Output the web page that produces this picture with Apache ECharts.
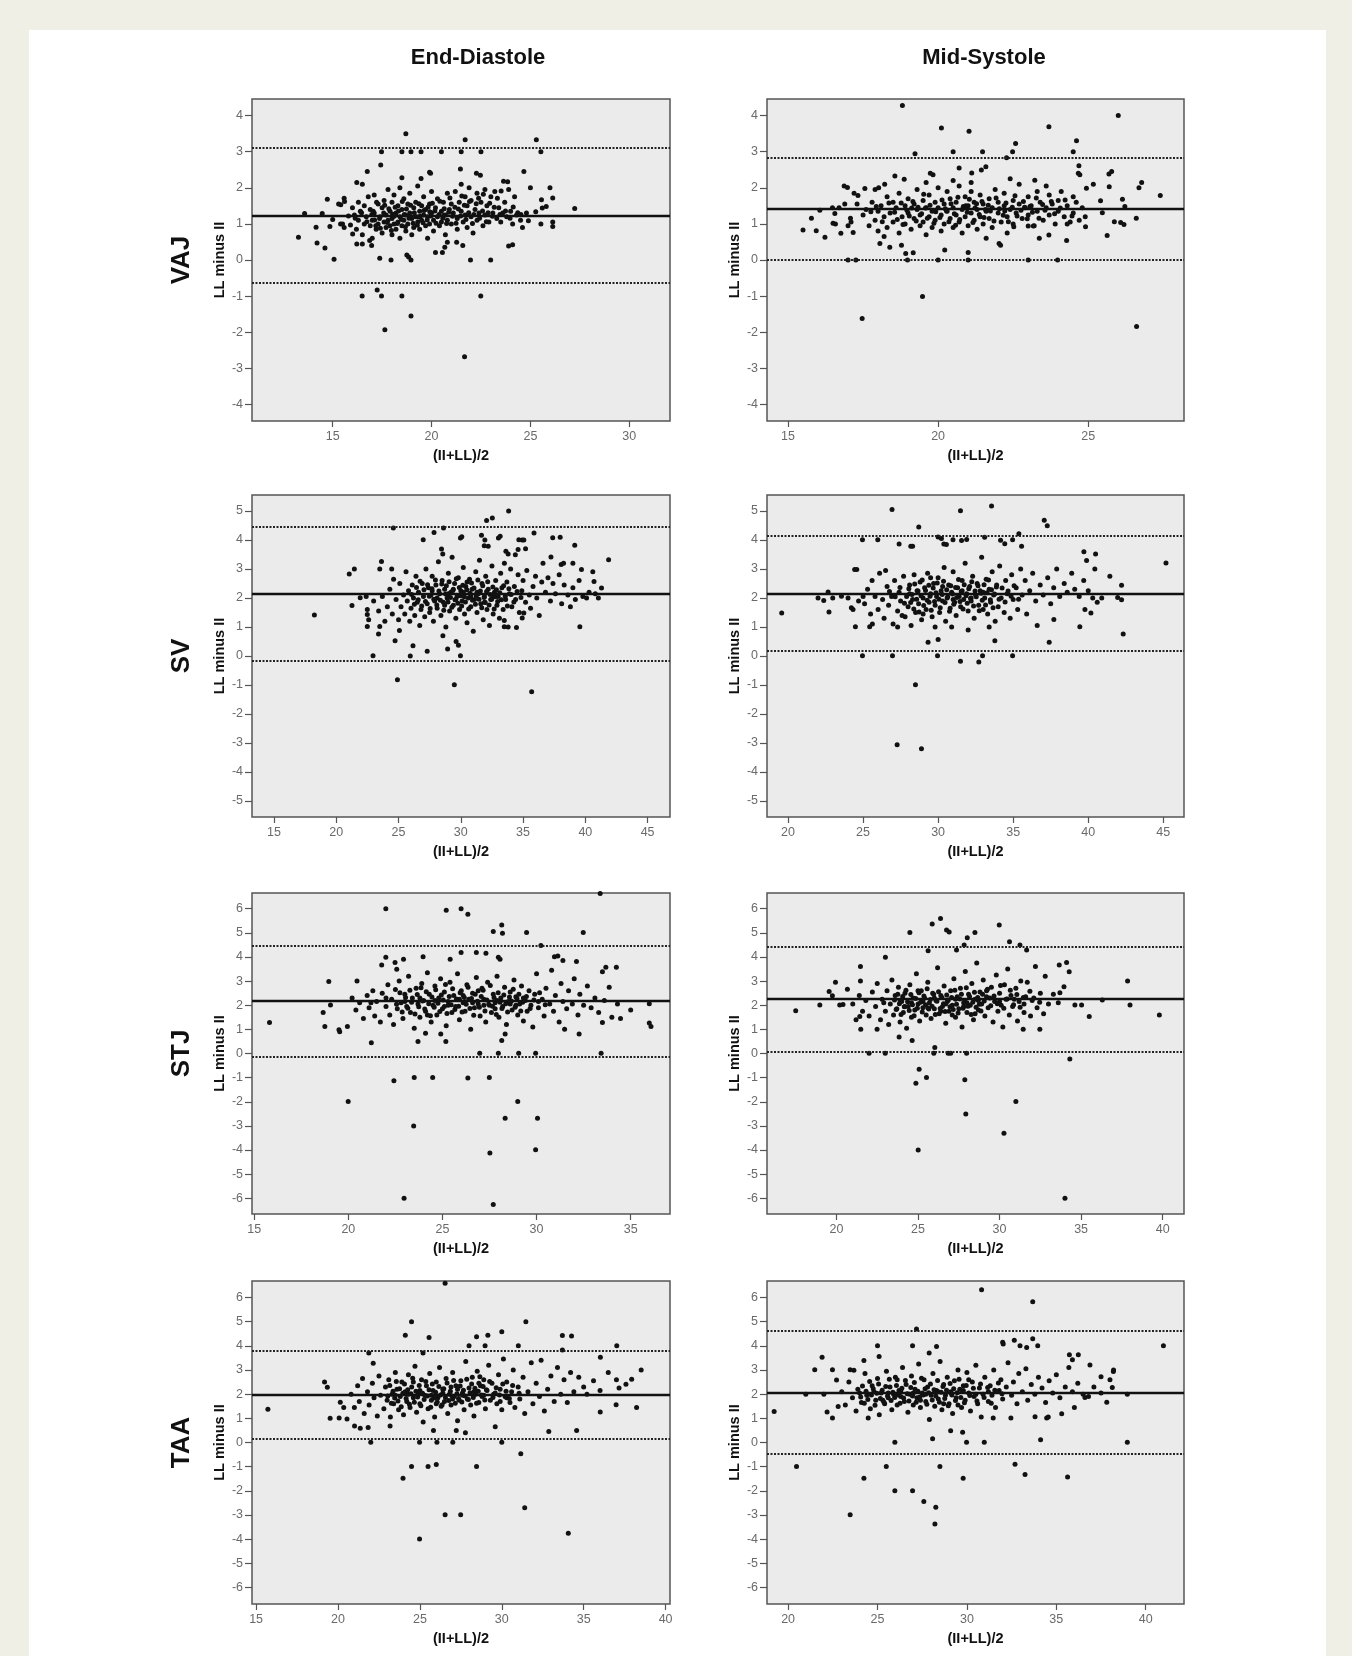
<!DOCTYPE html>
<html lang="en">
<head>
    <meta charset="UTF-8">
    <title>Bland-Altman: LL minus II</title>
    <script src="https://cdn.jsdelivr.net/npm/echarts/dist/echarts.min.js"></script>
    <style>
        html, body { margin: 0; padding: 0; background: #efefe6; overflow: hidden; }
        #sheet { position: absolute; left: 29px; top: 30px; width: 1297px; height: 1700px; background: #ffffff; }
        #main { position: absolute; left: 0; top: 0; width: 1352px; height: 1656px; }
    </style>
</head>
<body>
<div id="sheet"></div>
<div id="main"></div>
<script>
// column / row headings
var cols = ['End-Diastole', 'Mid-Systole'];
var rows = ['VAJ', 'SV', 'STJ', 'TAA'];

// points: [(II+LL)/2, LL minus II]
var vajED = [
    [18.7,3.5],[21.7,3.33],[25.3,3.33],[17.47,3.0],[18.5,3.0],[18.96,3.0],[19.47,3.0],[20.5,3.0],[21.5,3.0],[22.5,3.0],[25.53,3.0],
    [17.43,2.63],[16.75,2.45],[24.67,2.45],[21.46,2.52],[22.27,2.4],[22.47,2.35],[19.9,2.43],[19.95,2.4],[19.47,2.26],[23.64,2.18],
    [23.85,2.17],[16.22,2.15],[16.5,2.1],[18.5,2.28],[25.0,2.0],[25.99,2.0],[26.13,1.72],[25.56,1.67],[27.24,1.43],[25.6,1.44],
    [25.8,1.48],[25.27,1.34],[25.53,1.0],[26.13,1.05],[26.13,0.93],[24.9,1.09],[13.27,0.63],[13.58,1.29],[14.16,0.91],[14.21,0.47],
    [14.47,1.29],[14.61,0.33],[14.73,1.68],[14.86,0.93],[15.07,0.02],[15.0,1.12],[15.41,1.53],[15.58,1.71],[15.5,1.0],[15.58,0.9],
    [16.01,0.72],[16.22,0.44],[16.5,0.44],[16.87,0.54],[16.97,0.4],[17.38,0.05],[17.95,0.0],[18.75,0.14],[18.84,0.08],[18.96,0.0],
    [20.2,0.21],[20.55,0.21],[20.67,0.35],[20.8,0.49],[21.27,0.49],[21.58,0.4],[21.97,0.0],[22.99,0.0],[23.9,0.39],[24.1,0.42],
    [16.49,-1.0],[17.25,-0.83],[17.47,-1.0],[18.5,-1.0],[22.49,-1.0],[18.96,-1.55],[17.64,-1.93],[21.67,-2.68],
    [15.3,1.55],[15.4,1.0],[15.6,1.62],[15.8,1.22],[15.9,0.97],[16.0,1.45],[16.1,1.25],[16.2,0.85],[16.3,1.6],[16.3,1.1],
    [16.4,1.35],[16.5,0.7],[16.6,1.5],[16.6,1.0],[16.7,1.2],[16.8,1.75],[16.9,0.95],[16.9,1.4],[17.0,1.1],[17.0,0.6],
    [17.1,1.8],[17.1,1.3],[17.2,0.85],[17.3,1.55],[17.3,1.0],[17.4,1.2],[17.5,1.45],[17.5,0.75],[17.6,1.05],[17.6,1.65],
    [17.7,1.25],[17.7,0.9],[17.8,1.95],[17.8,1.1],[17.9,1.35],[17.9,0.95],[18.0,1.6],[18.0,1.15],[18.0,0.7],[18.1,1.0],
    [18.1,1.8],[18.2,1.3],[18.2,0.85],[18.3,1.5],[18.3,1.05],[18.4,2.0],[18.4,1.2],[18.4,0.6],[18.5,1.4],[18.5,0.95],
    [18.6,1.7],[18.6,1.1],[18.7,1.25],[18.7,0.8],[18.8,1.55],[18.8,1.0],[18.9,1.85],[18.9,1.3],[19.0,1.15],[19.0,0.7],
    [19.1,1.45],[19.1,0.9],[19.2,1.6],[19.2,1.2],[19.3,1.05],[19.3,2.05],[19.4,1.35],[19.4,0.85],[19.5,1.5],[19.5,1.1],
    [19.6,1.25],[19.6,1.75],[19.7,0.95],[19.7,1.4],[19.8,1.2],[19.8,0.6],[19.9,1.55],[19.9,1.0],[20.0,1.3],[20.0,1.9],
    [20.1,1.1],[20.1,0.8],[20.2,1.45],[20.3,1.2],[20.3,1.7],[20.4,0.95],[20.5,1.35],[20.5,1.05],[20.6,1.6],[20.7,1.25],
    [20.7,0.7],[20.8,1.85],[20.8,1.1],[20.9,1.4],[21.0,1.0],[21.0,1.55],[21.1,1.3],[21.2,1.9],[21.3,1.15],[21.3,0.85],
    [21.4,1.6],[21.5,1.35],[21.5,2.1],[21.6,1.05],[21.7,1.75],[21.7,1.25],[21.8,0.9],[21.8,1.5],[21.9,2.0],[22.0,1.2],
    [22.0,1.65],[22.1,0.75],[22.2,1.4],[22.3,1.85],[22.3,1.1],[22.4,1.3],[22.5,1.6],[22.6,0.95],[22.7,1.95],[22.7,1.25],
    [22.8,1.5],[22.9,1.05],[23.0,1.75],[23.1,1.3],[23.2,1.9],[23.3,1.15],[23.4,1.45],[23.5,1.05],[23.6,1.3],[23.7,1.6],
    [23.8,1.2],[23.9,1.95],[24.0,1.35],[24.1,1.0],[24.2,1.75],[24.3,1.25],[24.5,1.1],[24.6,0.9],[24.8,1.3],
    [17.05,1.35],[17.18,0.95],[17.22,1.6],[17.37,1.15],[17.41,0.88],[17.58,1.3],[17.63,1.52],[17.76,1.04],[17.84,1.42],[17.97,0.82],
    [18.03,1.27],[18.16,1.46],[18.27,1.01],[18.33,1.36],[18.48,1.12],[18.52,1.62],[18.68,0.92],[18.73,1.41],[18.86,1.16],[18.94,1.52],
    [19.07,1.02],[19.13,1.31],[19.28,0.96],[19.36,1.56],[19.43,1.21],[19.57,1.03],[19.62,1.37],[19.78,1.11],[19.83,1.47],[19.96,1.22],
    [20.04,1.57],[20.17,1.36],[20.23,1.02],[20.38,1.26],[20.42,1.63],[20.57,1.16],[20.64,1.42],[20.76,1.01],[20.87,1.32],[20.93,1.72],
    [21.06,1.21],[21.18,1.46],[21.24,1.02],[21.36,1.41],[21.47,1.22],[21.53,1.77],[21.66,1.52],[21.74,1.12],[21.88,1.31],[21.92,1.62],
    [22.07,1.01],[22.14,1.26],[22.26,1.56],[22.38,1.71],[22.43,1.16],[22.58,1.36],[22.62,1.82],[22.77,1.06],[22.86,1.31],[22.94,1.57],
    [23.08,1.21],[23.17,1.46],[23.33,1.71],[23.46,1.26],[23.52,1.91],[23.74,1.36],[23.97,1.16],[24.13,1.47],[24.36,1.31],[24.52,1.26],
    [16.14,1.16],[16.46,1.31],[16.73,1.06],[16.98,1.26],[17.12,1.11],[18.62,1.26],[19.32,1.19],[19.91,1.34],[20.63,1.24],[18.11,1.21]
];
var vajMS = [
    [18.81,4.28],[20.11,3.66],[21.03,3.57],[23.69,3.69],[26.0,4.0],[24.61,3.3],[22.58,3.23],[19.23,2.94],[20.5,3.0],[21.48,3.0],
    [22.48,3.0],[24.5,3.0],[22.28,2.83],[20.7,2.55],[21.59,2.58],[21.44,2.49],[21.12,2.41],[24.69,2.61],[24.67,2.4],[24.72,2.36],
    [25.69,2.38],[25.78,2.45],[26.78,2.15],[26.69,2.0],[27.4,1.79],[26.14,1.68],[26.22,1.48],[25.7,2.03],[26.6,1.16],[26.08,1.04],
    [26.19,0.98],[25.87,1.06],[25.63,0.68],[25.41,1.64],[25.47,1.31],[25.17,2.1],[24.94,1.99],[24.91,0.92],[24.28,0.54],[15.5,0.83],
    [15.78,1.16],[15.94,0.81],[16.06,1.38],[16.23,0.63],[16.48,1.45],[16.56,1.29],[16.5,1.02],[16.58,1.0],[16.76,0.74],[16.89,1.55],
    [16.87,2.05],[16.98,2.01],[17.0,0.95],[17.08,1.16],[17.17,0.76],[17.0,0.0],[17.26,0.0],[17.33,1.79],[17.56,1.98],[18.02,2.0],
    [18.22,2.1],[18.06,0.46],[18.39,0.35],[18.78,0.41],[18.92,0.18],[19.17,0.2],[18.98,0.0],[20.22,0.28],[20.0,0.0],[21.0,0.21],
    [21.0,0.0],[22.03,0.46],[22.08,0.41],[23.0,0.0],[23.98,0.0],[23.37,0.6],[23.69,0.69],[23.0,0.94],[23.17,0.94],[18.87,2.24],
    [18.56,2.33],[19.74,2.4],[19.83,2.36],[23.22,2.21],[19.48,-1.01],[17.47,-1.62],[26.61,-1.84],
    [17.3,1.55],[17.5,1.25],[17.6,1.4],[17.7,0.95],[17.8,1.6],[17.9,1.1],[18.0,1.35],[18.0,0.8],[18.1,1.5],[18.2,1.2],
    [18.3,1.75],[18.3,0.9],[18.4,1.3],[18.5,1.6],[18.5,1.05],[18.6,1.45],[18.7,0.75],[18.7,1.85],[18.8,1.2],[18.9,1.5],
    [18.9,1.0],[19.0,1.7],[19.0,1.3],[19.1,0.85],[19.2,1.55],[19.2,1.15],[19.3,1.95],[19.3,1.4],[19.4,0.95],[19.4,1.25],
    [19.5,1.65],[19.5,1.05],[19.6,1.45],[19.6,0.7],[19.7,1.2],[19.7,1.8],[19.8,1.35],[19.8,0.9],[19.9,1.6],[19.9,1.1],
    [20.0,1.45],[20.0,2.0],[20.1,1.25],[20.1,0.8],[20.2,1.55],[20.2,1.0],[20.3,1.35],[20.3,1.9],[20.4,1.15],[20.4,1.7],
    [20.5,1.45],[20.5,0.9],[20.6,1.25],[20.6,1.6],[20.7,1.05],[20.7,2.05],[20.8,1.4],[20.8,0.75],[20.9,1.2],[20.9,1.75],
    [21.0,1.5],[21.0,0.95],[21.1,1.3],[21.1,1.9],[21.2,1.1],[21.2,1.6],[21.3,1.4],[21.3,0.85],[21.4,1.2],[21.4,1.8],
    [21.5,1.55],[21.5,1.0],[21.6,1.35],[21.7,1.7],[21.7,1.15],[21.8,1.45],[21.8,0.9],[21.9,1.95],[22.0,1.3],[22.0,1.6],
    [22.1,1.05],[22.2,1.5],[22.2,1.85],[22.3,1.2],[22.3,0.75],[22.4,1.4],[22.5,1.65],[22.5,1.0],[22.6,1.3],[22.7,2.1],
    [22.7,1.55],[22.8,1.15],[22.9,1.45],[23.0,1.75],[23.0,1.25],[23.1,1.5],[23.2,0.95],[23.3,1.35],[23.3,1.9],[23.4,1.6],
    [23.5,1.1],[23.6,1.45],[23.7,1.8],[23.7,1.25],[23.8,1.55],[23.9,1.0],[24.0,1.65],[24.0,1.35],[24.1,1.9],[24.2,1.2],
    [24.3,1.5],[24.4,1.05],[24.5,1.75],[24.5,1.3],[24.6,1.6],[24.7,1.1],[24.8,1.45],[24.9,1.2],[16.7,1.45],[17.1,1.05],
    [17.2,1.85],[17.9,1.95],[18.2,0.65],[19.6,2.15],[20.5,2.2],[21.1,2.15],[21.6,0.6],[22.4,2.25],[23.6,2.05],[24.3,1.0],
    [18.55,1.32],[18.64,1.12],[18.77,1.58],[18.83,0.98],[18.96,1.38],[19.04,1.22],[19.16,1.62],[19.27,1.08],[19.33,1.46],[19.45,1.28],
    [19.52,1.82],[19.64,1.16],[19.73,1.52],[19.86,1.02],[19.92,1.34],[20.06,1.18],[20.13,1.66],[20.24,1.42],[20.36,1.06],[20.43,1.56],
    [20.54,1.28],[20.66,1.74],[20.72,1.12],[20.84,1.48],[20.97,1.32],[21.04,1.68],[21.16,1.04],[21.23,1.44],[21.37,1.26],[21.46,1.62],
    [21.53,1.18],[21.67,1.52],[21.74,1.36],[21.86,1.08],[21.93,1.72],[22.04,1.42],[22.17,1.24],[22.26,1.58],[22.34,1.06],[22.47,1.46],
    [22.56,1.78],[22.63,1.22],[22.76,1.38],[22.84,1.62],[22.97,1.14],[23.06,1.48],[23.14,1.32],[23.27,1.72],[23.36,1.16],[23.48,1.54],
    [23.56,1.38],[23.77,1.62],[23.88,1.28],[24.07,1.44],[24.23,1.66],[24.46,1.22],[17.76,1.34],[17.94,1.48],[18.14,1.06],[18.36,1.58],
    [19.58,1.44],[20.28,1.36],[20.92,1.5],[21.58,1.4],[22.22,1.36],[22.88,1.46],[19.12,1.44],[21.28,1.56],[20.58,0.96],[22.52,0.92]
];
var svED = [
    [33.84,5.0],[32.07,4.67],[32.53,4.76],[24.58,4.41],[27.85,4.26],[28.61,4.41],[35.88,4.24],[37.38,4.08],[37.98,4.09],[39.15,3.82],
    [41.87,3.32],[29.97,4.07],[30.08,4.11],[26.98,4.01],[31.66,4.16],[31.93,4.0],[31.88,3.8],[32.2,3.78],[33.02,4.07],[33.16,4.13],
    [34.66,4.01],[34.93,4.0],[35.06,4.0],[34.6,3.67],[35.2,3.7],[34.38,3.49],[33.62,3.61],[33.8,3.52],[28.45,3.69],[28.55,3.52],
    [21.04,2.83],[21.45,3.0],[23.63,3.26],[23.49,3.0],[24.45,3.0],[18.24,1.41],[21.26,1.74],[21.92,2.01],[22.4,2.05],[22.49,1.6],
    [22.49,1.43],[22.49,1.02],[22.95,0.01],[23.39,0.76],[23.49,1.02],[24.72,0.53],[25.07,0.88],[26.16,0.35],[25.94,0.0],[27.3,0.16],
    [28.56,0.7],[28.94,0.24],[29.62,0.5],[29.81,0.37],[29.97,0.01],[39.56,1.01],[40.1,2.0],[41.05,2.0],[41.3,2.34],[40.7,2.57],
    [40.6,2.9],[39.69,2.98],[39.0,3.2],[38.06,3.15],[38.25,3.2],[37.24,3.41],[34.93,1.31],[34.47,0.98],[35.06,1.48],[33.49,1.01],
    [33.49,1.22],[24.91,-0.82],[29.48,-0.99],[35.69,-1.23],
    [22.6,1.25],[23.0,1.9],[23.4,1.55],[23.7,2.05],[23.9,1.2],[24.1,1.7],[24.3,2.3],[24.5,1.45],[24.6,2.65],[24.8,1.95],
    [25.0,1.25],[25.1,2.5],[25.2,1.7],[25.4,2.1],[25.5,1.45],[25.6,2.9],[25.7,1.9],[25.8,2.25],[25.9,1.2],[26.0,1.65],
    [26.1,2.45],[26.2,2.0],[26.3,1.4],[26.4,2.75],[26.5,1.85],[26.6,2.2],[26.7,1.05],[26.8,1.6],[26.9,2.5],[27.0,2.05],
    [27.1,1.35],[27.2,3.0],[27.3,1.8],[27.4,2.35],[27.5,1.5],[27.6,2.1],[27.7,2.75],[27.8,1.2],[27.9,1.9],[28.0,2.45],
    [28.1,1.65],[28.2,3.25],[28.3,2.15],[28.4,1.4],[28.5,2.6],[28.6,1.85],[28.7,2.3],[28.8,1.0],[28.9,2.0],[29.0,2.85],
    [29.1,1.55],[29.2,2.2],[29.3,3.4],[29.4,1.75],[29.5,2.5],[29.6,1.3],[29.7,2.05],[29.8,2.7],[29.9,1.6],[30.0,2.25],
    [30.1,1.9],[30.2,3.05],[30.3,1.45],[30.4,2.4],[30.5,1.15],[30.6,2.0],[30.7,2.65],[30.8,1.7],[30.9,2.3],[31.0,0.85],
    [31.1,1.95],[31.2,2.9],[31.3,1.5],[31.4,2.15],[31.5,3.3],[31.6,1.8],[31.7,2.5],[31.8,1.25],[31.9,2.05],[32.0,2.75],
    [32.1,1.6],[32.2,2.3],[32.3,1.05],[32.4,1.95],[32.5,3.1],[32.6,1.45],[32.7,2.2],[32.8,2.6],[32.9,1.75],[33.0,2.05],
    [33.1,1.3],[33.2,2.85],[33.3,2.35],[33.4,1.6],[33.5,3.2],[33.6,1.95],[33.7,2.55],[33.8,1.0],[33.9,2.15],[34.0,3.0],
    [34.1,1.7],[34.3,2.4],[34.4,1.95],[34.6,2.8],[34.7,1.5],[34.9,2.25],[35.0,2.6],[35.2,1.85],[35.3,2.95],[35.5,2.1],
    [35.6,1.65],[35.8,2.4],[36.0,2.75],[36.1,2.0],[36.3,1.4],[36.5,2.55],[36.6,3.2],[36.8,2.2],[37.0,2.7],[37.2,1.9],
    [37.4,2.5],[37.6,2.15],[37.9,2.8],[38.1,1.8],[38.3,2.45],[38.6,2.1],[38.8,1.7],[39.0,2.35],[39.2,1.95],[39.5,2.6],
    [39.8,2.05],[40.3,2.2],[40.8,2.15],[28.1,2.0],[29.0,2.15],[29.6,1.95],[30.2,2.2],[30.8,2.05],[31.3,2.2],[31.9,1.85],
    [30.5,2.55],[29.4,2.3],[28.7,1.75],[32.6,2.1],[27.7,2.25],
    [26.05,2.12],[26.27,1.78],[26.44,2.36],[26.58,1.94],[26.73,2.58],[26.86,1.72],[27.04,2.28],[27.16,1.88],[27.33,2.46],[27.47,2.06],
    [27.54,1.64],[27.68,2.32],[27.83,1.96],[27.96,2.62],[28.07,1.76],[28.24,2.24],[28.36,1.92],[28.47,2.48],[28.63,1.58],[28.78,2.14],
    [28.84,2.42],[28.97,1.86],[29.06,2.56],[29.17,2.02],[29.28,1.68],[29.36,2.26],[29.53,1.94],[29.64,2.66],[29.76,1.82],[29.88,2.36],
    [29.96,2.08],[30.07,1.72],[30.16,2.44],[30.28,2.04],[30.37,1.86],[30.48,2.28],[30.63,1.62],[30.74,2.16],[30.86,2.52],[30.94,1.92],
    [31.06,2.34],[31.17,1.78],[31.24,2.08],[31.37,2.62],[31.46,1.96],[31.57,2.24],[31.68,1.66],[31.76,2.42],[31.87,2.02],[31.96,1.84],
    [32.07,2.22],[32.16,2.56],[32.27,1.76],[32.36,2.12],[32.48,1.96],[32.57,2.38],[32.68,1.62],[32.77,2.04],[32.86,2.28],[32.96,1.88],
    [33.13,2.18],[33.26,1.94],[33.44,2.42],[33.57,2.06],[33.74,1.72],[33.86,2.32],[34.04,2.12],[34.26,1.86],[34.52,2.22],[34.83,2.02]
];
var svMS = [
    [26.93,5.05],[31.49,5.01],[33.56,5.17],[28.71,4.45],[37.07,4.68],[37.27,4.49],[24.96,4.01],[25.98,4.01],[27.4,3.86],[28.18,3.78],
    [28.3,3.78],[30.0,4.1],[30.22,4.05],[30.38,3.86],[30.55,3.84],[30.99,4.01],[31.56,3.98],[31.9,4.02],[33.1,4.09],[35.38,4.21],
    [34.96,4.01],[34.16,3.99],[34.44,3.87],[35.56,3.78],[39.71,3.59],[40.49,3.52],[45.18,3.21],[41.44,2.75],[40.44,3.0],[39.89,3.29],
    [42.22,2.44],[42.22,1.94],[41.96,2.02],[42.33,0.76],[39.44,1.01],[39.78,1.6],[40.18,1.48],[37.4,0.47],[37.71,1.26],[19.58,1.48],
    [22.0,2.0],[22.38,1.91],[22.67,2.21],[22.73,1.52],[22.98,2.0],[23.56,2.06],[24.0,2.0],[24.22,1.66],[24.33,1.6],[24.49,1.01],
    [24.44,2.98],[24.58,2.98],[24.96,0.01],[26.96,0.01],[25.44,1.01],[25.62,1.1],[29.96,0.01],[29.33,0.47],[30.0,0.57],[31.49,-0.18],
    [32.71,-0.21],[32.96,0.01],[33.78,0.53],[34.96,0.01],[28.49,-0.99],[27.27,-3.06],[28.89,-3.2],
    [25.1,1.8],[25.3,2.3],[25.5,1.45],[25.6,2.6],[25.8,2.05],[26.0,1.6],[26.1,2.85],[26.3,1.95],[26.4,1.3],[26.6,2.4],
    [26.7,1.75],[26.9,2.05],[27.0,1.1],[27.1,2.6],[27.3,1.55],[27.4,2.2],[27.5,1.9],[27.7,2.75],[27.8,1.35],[27.9,2.05],
    [28.0,1.7],[28.1,2.45],[28.2,1.05],[28.3,1.95],[28.4,2.8],[28.5,1.5],[28.6,2.25],[28.7,1.8],[28.8,2.55],[28.9,1.25],
    [29.0,2.0],[29.1,2.35],[29.2,1.6],[29.3,2.85],[29.4,1.85],[29.5,2.15],[29.6,1.35],[29.7,2.5],[29.8,1.75],[29.9,2.05],
    [30.0,2.7],[30.1,1.5],[30.2,2.25],[30.3,1.9],[30.4,3.05],[30.5,1.2],[30.6,2.0],[30.7,2.45],[30.8,1.65],[30.9,2.2],
    [31.0,2.9],[31.1,1.85],[31.2,1.4],[31.3,2.35],[31.4,2.05],[31.5,1.7],[31.6,2.6],[31.7,1.95],[31.8,3.2],[31.9,2.15],
    [32.0,1.55],[32.1,2.4],[32.2,1.9],[32.3,2.75],[32.4,1.3],[32.5,2.1],[32.6,2.5],[32.7,1.75],[32.8,2.25],[32.9,3.4],
    [33.0,1.6],[33.1,2.0],[33.2,2.65],[33.3,1.45],[33.4,2.3],[33.5,1.85],[33.6,2.9],[33.7,2.1],[33.8,1.2],[33.9,2.45],
    [34.0,1.7],[34.1,3.1],[34.2,2.0],[34.4,1.5],[34.5,2.6],[34.6,2.15],[34.8,1.3],[34.9,2.8],[35.0,1.95],[35.2,2.35],
    [35.3,1.6],[35.5,3.0],[35.6,2.1],[35.8,2.6],[35.9,1.45],[36.1,2.25],[36.3,2.85],[36.5,1.9],[36.6,1.05],[36.8,2.45],
    [37.0,2.1],[37.3,2.7],[37.5,1.8],[37.7,2.35],[37.9,3.0],[38.1,2.05],[38.4,2.5],[38.6,2.2],[38.9,2.85],[39.1,2.3],
    [39.4,2.05],[39.7,2.6],[40.0,2.25],[40.3,2.0],[40.6,1.85],[40.9,2.0],[24.7,1.9],[25.0,2.05],[26.5,2.95],[27.6,1.4],
    [28.1,2.15],[29.0,1.45],[29.5,2.7],[30.3,2.4],[31.0,1.95],[31.6,2.25],[32.2,2.0],[33.0,2.2],[30.9,1.0],[32.0,0.9],
    [29.8,1.0],[33.4,1.0],[27.3,1.0],
    [28.05,2.32],[28.17,1.84],[28.26,2.12],[28.38,1.62],[28.44,2.48],[28.57,1.96],[28.66,2.24],[28.73,1.52],[28.86,2.08],[28.94,2.62],
    [29.04,1.74],[29.16,2.26],[29.27,1.92],[29.38,2.44],[29.46,2.06],[29.54,1.58],[29.67,2.34],[29.76,1.88],[29.86,2.18],[29.94,2.52],
    [30.06,1.96],[30.14,1.66],[30.27,2.12],[30.36,2.58],[30.46,1.84],[30.57,2.28],[30.64,2.04],[30.76,1.54],[30.84,2.42],[30.96,2.14],
    [31.04,1.78],[31.16,2.36],[31.24,2.02],[31.36,2.64],[31.46,1.88],[31.54,2.22],[31.66,1.62],[31.74,2.46],[31.86,2.08],[31.94,1.82],
    [32.04,2.32],[32.16,1.98],[32.24,2.56],[32.36,1.72],[32.46,2.24],[32.54,2.04],[32.66,2.42],[32.74,1.56],[32.86,2.16],[32.94,1.92],
    [33.06,2.46],[33.16,1.76],[33.26,2.18],[33.36,2.62],[33.48,1.94],[33.56,2.28],[33.66,1.66],[33.76,2.14],[33.88,2.38],[34.06,1.96],
    [34.26,2.34],[34.46,1.86],[34.66,2.24],[34.86,2.06],[35.06,2.42],[35.36,1.96],[27.14,2.04],[27.46,2.36],[27.76,1.82],[26.76,2.22]
];
var stjED = [
    [15.81,1.28],[21.99,6.0],[25.2,5.94],[25.99,6.0],[26.35,5.77],[33.38,6.63],[28.15,5.32],[28.19,4.98],[27.7,5.05],[29.47,5.01],
    [32.48,5.01],[30.23,4.47],[21.99,3.99],[21.77,3.67],[22.93,3.9],[22.48,3.77],[22.57,3.49],[23.97,4.01],[25.41,3.9],[25.99,4.18],
    [26.8,4.18],[27.31,4.15],[27.97,3.99],[28.06,3.9],[30.95,4.01],[31.13,4.04],[31.4,3.85],[32.12,3.81],[33.68,3.57],[33.5,3.39],
    [34.24,3.57],[33.86,2.74],[35.99,2.06],[35.99,1.26],[36.08,1.12],[34.46,1.45],[33.5,1.28],[32.26,0.81],[31.49,1.0],[18.66,1.7],
    [18.75,1.12],[18.96,2.98],[19.05,2.01],[19.5,0.98],[19.54,0.9],[19.95,1.12],[21.22,0.45],[20.46,3.0],[23.7,0.5],[24.1,0.84],
    [24.91,0.81],[25.18,0.5],[26.98,0.01],[27.97,0.01],[29.05,0.01],[29.95,0.01],[33.43,0.01],[28.15,0.54],[28.33,0.81],[22.42,-1.13],
    [23.5,-0.99],[24.48,-0.99],[26.35,-1.02],[27.49,-0.99],[19.99,-1.99],[29.0,-1.99],[28.33,-2.68],[30.05,-2.68],[23.47,-3.0],
    [27.52,-4.12],[29.95,-3.99],[22.96,-6.0],[27.7,-6.26],
    [20.2,2.3],[20.4,1.8],[20.6,2.1],[20.8,1.45],[21.0,2.4],[21.1,1.9],[21.3,2.6],[21.4,1.55],[21.5,2.15],[21.7,1.3],
    [21.8,2.5],[22.0,1.95],[22.1,2.85],[22.2,1.6],[22.3,2.25],[22.4,1.2],[22.5,2.65],[22.6,1.85],[22.7,3.0],[22.8,2.1],
    [22.9,1.45],[23.0,2.45],[23.1,1.95],[23.2,3.2],[23.3,1.7],[23.4,2.3],[23.5,1.05],[23.6,2.7],[23.7,2.05],[23.8,1.5],
    [23.9,2.9],[24.0,2.2],[24.1,1.75],[24.2,3.35],[24.3,2.45],[24.4,1.3],[24.5,2.0],[24.6,2.8],[24.7,1.6],[24.8,2.3],
    [24.9,3.1],[25.0,1.85],[25.1,2.55],[25.2,1.15],[25.3,2.15],[25.4,2.95],[25.5,1.7],[25.6,2.4],[25.7,1.95],[25.8,3.3],
    [25.9,1.4],[26.0,2.6],[26.1,2.1],[26.2,1.75],[26.3,2.85],[26.4,2.25],[26.5,1.0],[26.6,2.5],[26.7,1.9],[26.8,3.15],
    [26.9,2.05],[27.0,1.55],[27.1,2.7],[27.2,2.25],[27.3,1.3],[27.4,2.95],[27.5,2.0],[27.6,1.7],[27.7,2.45],[27.8,2.1],
    [27.9,3.2],[28.0,1.5],[28.1,2.3],[28.2,1.95],[28.3,2.75],[28.4,1.2],[28.5,2.15],[28.6,2.55],[28.7,1.8],[28.8,3.05],
    [28.9,2.35],[29.0,1.6],[29.1,2.05],[29.2,2.8],[29.3,1.35],[29.4,2.2],[29.5,1.75],[29.6,2.6],[29.7,2.0],[29.8,1.1],
    [29.9,2.45],[30.0,3.3],[30.1,1.9],[30.3,2.25],[30.4,1.55],[30.5,2.7],[30.7,2.05],[30.8,3.45],[30.9,1.75],[31.0,2.4],
    [31.2,1.3],[31.3,2.9],[31.4,2.15],[31.6,1.85],[31.7,2.6],[31.9,2.05],[32.0,3.1],[32.2,1.6],[32.3,2.45],[32.5,2.0],
    [32.7,2.8],[32.9,1.9],[33.1,2.3],[33.3,1.7],[33.6,2.2],[34.0,1.5],[34.3,2.05],[35.0,1.8],[21.2,2.1],[22.0,2.3],
    [23.0,2.15],[23.8,2.3],[24.6,2.2],[25.3,2.0],[25.9,2.25],[26.6,2.1],[27.2,2.0],[27.9,2.2],[28.6,2.05],[29.3,2.3],
    [30.1,2.15],[24.2,1.6],[25.1,1.95],[26.1,2.4],[27.8,1.85],[28.9,2.0],[26.9,2.6],
    [22.56,2.04],[22.74,2.52],[22.86,1.72],[23.04,2.32],[23.16,1.88],[23.27,2.62],[23.36,2.12],[23.54,1.64],[23.66,2.44],[23.74,1.94],
    [23.86,2.72],[23.94,2.18],[24.06,1.84],[24.14,2.56],[24.27,2.06],[24.36,1.56],[24.44,2.34],[24.56,1.92],[24.64,2.64],[24.76,2.08],
    [24.86,1.74],[24.94,2.42],[25.04,2.22],[25.16,2.86],[25.24,1.66],[25.36,2.36],[25.46,2.02],[25.54,2.68],[25.66,1.82],[25.74,2.26],
    [25.86,1.96],[25.94,2.52],[26.04,1.72],[26.16,2.32],[26.26,2.04],[26.36,2.74],[26.46,1.86],[26.54,2.28],[26.66,1.58],[26.74,2.46],
    [26.86,2.16],[26.96,1.92],[27.06,2.36],[27.16,2.62],[27.26,1.76],[27.36,2.22],[27.46,2.04],[27.54,2.82],[27.66,1.96],[27.74,2.32],
    [27.86,1.62],[27.96,2.52],[28.06,2.12],[28.16,1.86],[28.26,2.42],[28.36,2.06],[28.46,1.72],[28.56,2.34],[28.66,2.18],[28.76,2.66],
    [28.86,1.92],[28.96,2.28],[29.06,2.46],[29.16,1.76],[29.26,2.12],[29.46,2.36],[29.66,1.86],[29.86,2.22],[30.16,2.52],[30.46,2.02]
];
var stjMS = [
    [17.5,1.77],[18.98,2.01],[19.94,2.95],[19.55,2.57],[19.75,2.39],[20.67,2.66],[20.2,2.01],[20.4,2.03],[21.47,3.6],[21.47,3.0],
    [21.49,1.0],[21.43,1.53],[22.0,0.01],[22.99,0.01],[22.49,1.0],[23.0,3.99],[23.84,0.68],[24.64,0.54],[24.5,5.01],[25.87,5.37],
    [26.38,5.59],[26.75,5.12],[26.91,5.03],[28.49,5.01],[28.02,4.8],[29.98,5.32],[27.83,4.5],[27.36,4.29],[25.62,4.26],[30.61,4.63],
    [31.25,4.5],[31.66,4.29],[33.66,3.67],[34.11,3.77],[34.27,3.39],[33.7,2.52],[33.95,2.77],[35.5,1.53],[36.3,2.22],[37.85,3.0],
    [38.0,2.01],[39.8,1.6],[34.62,2.01],[35.03,2.01],[34.31,-0.23],[26.03,0.25],[25.97,0.01],[26.85,0.01],[27.0,0.01],[27.98,0.01],
    [32.47,1.0],[31.45,1.0],[25.07,-0.65],[24.87,-1.23],[25.52,-0.99],[27.87,-1.09],[31.0,-1.99],[27.93,-2.51],[30.27,-3.3],
    [25.01,-4.0],[34.01,-6.0],
    [21.0,2.05],[21.2,1.4],[21.4,2.4],[21.6,1.75],[21.8,2.2],[22.0,1.55],[22.2,2.55],[22.4,1.95],[22.5,2.9],[22.7,1.4],
    [22.8,2.25],[23.0,1.75],[23.1,2.6],[23.2,1.2],[23.3,2.05],[23.4,3.05],[23.5,1.6],[23.6,2.4],[23.7,1.85],[23.8,2.75],
    [23.9,1.3],[24.0,2.15],[24.1,1.7],[24.2,2.5],[24.3,1.05],[24.4,1.95],[24.5,2.85],[24.6,1.5],[24.7,2.3],[24.8,1.8],
    [24.9,3.3],[25.0,2.05],[25.1,1.35],[25.2,2.6],[25.3,1.9],[25.4,2.3],[25.5,1.6],[25.6,2.95],[25.7,2.1],[25.8,1.45],
    [25.9,2.5],[26.0,1.85],[26.1,2.2],[26.2,3.55],[26.3,1.65],[26.4,2.4],[26.5,1.95],[26.6,2.8],[26.7,1.25],[26.8,2.15],
    [26.9,1.75],[27.0,2.6],[27.1,2.0],[27.2,3.1],[27.3,1.5],[27.4,2.35],[27.5,1.85],[27.6,2.7],[27.7,1.1],[27.8,2.1],
    [27.9,3.4],[28.0,1.7],[28.1,2.45],[28.2,2.0],[28.3,2.9],[28.4,1.4],[28.5,2.25],[28.6,3.75],[28.7,1.8],[28.8,2.55],
    [28.9,2.05],[29.0,3.05],[29.1,1.55],[29.2,2.35],[29.3,1.9],[29.5,2.75],[29.6,1.3],[29.7,2.15],[29.8,3.25],[29.9,1.75],
    [30.0,2.5],[30.1,2.0],[30.2,1.1],[30.3,2.85],[30.4,2.25],[30.5,3.5],[30.6,1.6],[30.7,2.4],[30.8,1.95],[31.0,2.7],
    [31.1,1.35],[31.2,2.15],[31.3,3.0],[31.5,1.7],[31.6,2.35],[31.7,2.95],[31.9,1.55],[32.0,2.2],[32.2,3.6],[32.3,1.9],
    [32.5,2.5],[32.7,1.65],[32.8,3.2],[33.0,2.05],[33.3,2.45],[33.6,2.1],[22.9,2.1],[23.9,2.2],[24.6,2.1],[25.3,2.15],
    [26.0,2.3],[26.7,2.05],[27.3,2.25],[28.0,2.1],[28.7,2.2],[29.4,2.3],[30.0,2.15],[30.9,2.25],[25.6,1.9],[26.4,1.75],
    [27.1,1.6],[27.8,1.95],[28.5,1.65],[29.2,2.6],[25.0,2.6],[24.2,1.95],[31.5,2.05],[32.1,2.3],
    [23.56,2.22],[23.66,1.82],[23.76,2.46],[23.86,2.06],[23.96,1.62],[24.06,2.36],[24.16,1.94],[24.26,2.62],[24.36,2.14],[24.46,1.78],
    [24.56,2.44],[24.66,2.02],[24.76,1.56],[24.86,2.28],[24.96,1.88],[25.06,2.52],[25.16,2.12],[25.26,1.72],[25.36,2.38],[25.46,2.02],
    [25.56,2.68],[25.66,1.84],[25.76,2.24],[25.86,1.96],[25.96,2.46],[26.06,1.62],[26.16,2.16],[26.26,2.56],[26.36,1.86],[26.46,2.32],
    [26.56,2.06],[26.66,1.74],[26.76,2.42],[26.86,2.22],[26.96,1.94],[27.06,2.32],[27.16,1.82],[27.26,2.62],[27.36,2.04],[27.46,1.68],
    [27.56,2.26],[27.66,2.46],[27.76,1.88],[27.86,2.16],[27.96,2.72],[28.06,1.96],[28.16,2.36],[28.26,1.62],[28.36,2.12],[28.46,2.54],
    [28.56,1.92],[28.66,2.32],[28.76,2.04],[28.86,1.76],[28.96,2.46],[29.06,2.18],[29.26,2.66],[29.46,1.98],[29.66,2.38],[29.86,2.06],
    [30.06,2.82],[30.26,1.88],[30.46,2.26],[30.66,2.62],[30.86,2.02],[31.06,2.44],[31.26,1.92],[31.46,2.32],[31.86,2.58],[32.46,2.12]
];
var taaED = [
    [15.72,1.38],[26.54,6.59],[24.49,4.99],[31.47,4.99],[24.11,4.44],[25.56,4.34],[28.46,4.37],[29.15,4.44],[30.0,4.58],[33.7,4.43],
    [34.26,4.41],[28.0,4.0],[28.98,4.0],[31.01,4.0],[37.02,4.0],[33.7,3.83],[21.88,3.7],[25.19,3.7],[22.15,3.28],[36.02,3.53],
    [38.51,3.0],[37.93,2.62],[37.58,2.41],[37.16,2.25],[38.23,1.45],[36.98,1.56],[36.01,1.26],[34.57,0.5],[32.87,0.46],[19.18,2.5],
    [19.35,2.29],[19.52,1.0],[20.07,1.01],[20.14,1.67],[20.35,1.45],[20.55,0.97],[21.01,0.68],[21.36,0.59],[21.84,0.62],[22.0,0.01],
    [23.18,0.68],[24.98,0.01],[26.04,0.01],[27.01,0.01],[30.0,0.01],[25.83,0.5],[27.22,0.5],[27.78,0.4],[31.16,-0.47],[24.49,-0.99],
    [25.5,-0.99],[26.0,-0.91],[28.46,-0.99],[23.97,-1.48],[31.4,-2.7],[26.54,-2.99],[27.49,-2.99],[34.06,-3.75],[24.98,-3.99],
    [20.8,2.0],[21.0,1.45],[21.2,2.35],[21.3,1.7],[21.5,2.65],[21.6,1.2],[21.8,2.1],[21.9,1.55],[22.1,2.45],[22.2,1.85],
    [22.4,1.1],[22.5,2.75],[22.6,1.95],[22.8,1.4],[22.9,2.3],[23.0,1.75],[23.1,2.6],[23.2,1.05],[23.3,2.0],[23.4,1.6],
    [23.5,2.9],[23.6,2.2],[23.7,1.35],[23.8,1.9],[23.9,2.5],[24.0,1.15],[24.1,2.1],[24.2,1.7],[24.3,2.8],[24.4,1.45],
    [24.5,2.3],[24.6,1.85],[24.7,3.15],[24.8,1.25],[24.9,2.05],[25.0,1.6],[25.1,2.6],[25.2,0.85],[25.3,1.95],[25.4,2.35],
    [25.5,1.4],[25.6,2.85],[25.7,1.75],[25.8,2.15],[25.9,1.05],[26.0,2.5],[26.1,1.85],[26.2,3.1],[26.3,1.5],[26.4,2.2],
    [26.5,1.7],[26.6,2.65],[26.7,1.2],[26.8,2.0],[26.9,1.55],[27.0,2.9],[27.1,1.9],[27.2,2.35],[27.3,0.9],[27.4,1.75],
    [27.5,2.55],[27.6,2.05],[27.7,1.35],[27.8,3.35],[27.9,1.8],[28.0,2.25],[28.1,1.55],[28.2,2.7],[28.3,1.1],[28.4,2.0],
    [28.5,2.95],[28.6,1.65],[28.7,2.35],[28.8,1.9],[28.9,2.6],[29.0,1.4],[29.1,2.15],[29.2,3.2],[29.3,1.75],[29.4,2.45],
    [29.5,2.0],[29.6,0.65],[29.7,1.6],[29.8,2.8],[29.9,2.2],[30.0,1.35],[30.1,3.45],[30.2,1.9],[30.3,2.5],[30.5,1.65],
    [30.6,2.1],[30.7,3.0],[30.8,1.45],[31.0,2.3],[31.1,1.8],[31.3,2.7],[31.4,1.2],[31.6,2.1],[31.8,3.3],[31.9,1.6],
    [32.1,2.45],[32.3,1.9],[32.4,3.4],[32.6,1.3],[32.8,2.2],[33.0,2.75],[33.2,1.7],[33.4,3.1],[33.6,2.0],[33.8,2.6],
    [34.0,1.65],[34.2,2.9],[34.4,2.1],[34.7,2.7],[35.0,2.3],[35.2,2.0],[35.6,2.55],[36.0,2.15],[36.5,2.9],[37.0,2.6],
    [23.5,1.95],[24.3,2.0],[25.0,2.15],[25.7,1.95],[26.4,2.05],[27.0,1.8],[27.6,1.95],[28.3,2.1],[28.9,1.95],[29.6,2.05],
    [30.3,1.85],[26.0,1.6],[27.3,2.2],[28.6,2.45],[29.9,1.7],[24.6,2.5],[26.9,2.3],
    [23.04,1.92],[23.16,2.36],[23.26,1.62],[23.36,2.12],[23.46,1.84],[23.56,2.52],[23.66,1.72],[23.76,2.22],[23.86,1.48],[23.96,2.04],
    [24.06,2.42],[24.16,1.82],[24.26,2.18],[24.36,1.58],[24.46,2.02],[24.56,2.66],[24.66,1.66],[24.76,2.12],[24.86,1.88],[24.96,2.36],
    [25.06,1.52],[25.16,2.04],[25.26,1.78],[25.36,2.52],[25.46,1.92],[25.56,2.18],[25.66,1.46],[25.76,2.42],[25.86,1.84],[25.96,2.08],
    [26.06,1.68],[26.16,2.32],[26.26,1.96],[26.36,1.56],[26.46,2.22],[26.56,1.86],[26.66,2.46],[26.76,1.74],[26.86,2.12],[26.96,1.92],
    [27.06,2.56],[27.16,1.62],[27.26,2.02],[27.36,1.82],[27.46,2.34],[27.56,1.68],[27.66,2.16],[27.76,1.92],[27.86,2.62],[27.96,1.78],
    [28.06,2.06],[28.16,2.42],[28.26,1.86],[28.36,2.24],[28.46,1.62],[28.56,2.12],[28.66,2.72],[28.76,1.96],[28.86,2.32],[28.96,1.76],
    [29.06,2.18],[29.26,2.52],[29.46,1.86],[29.66,2.26],[29.86,1.96],[30.06,2.42],[30.26,2.12],[30.46,1.82],[30.66,2.36],[31.06,2.04]
];
var taaMS = [
    [19.22,1.28],[20.47,-0.99],[20.99,2.0],[21.49,3.01],[21.9,3.53],[22.0,2.0],[22.18,1.26],[22.48,1.01],[22.48,3.01],[22.71,2.59],
    [22.8,1.49],[23.47,-2.99],[23.47,3.01],[23.68,2.99],[24.24,-1.48],[24.24,3.39],[24.48,1.01],[25.0,4.0],[25.09,3.56],[25.49,-0.99],
    [25.97,0.01],[25.97,-2.0],[26.96,-2.0],[26.96,4.0],[27.18,4.69],[27.59,-2.44],[28.26,-2.68],[28.21,-3.37],[28.49,-0.99],[28.08,0.15],
    [28.3,3.97],[27.89,3.7],[29.09,0.49],[29.76,0.42],[29.98,0.01],[30.97,0.01],[29.79,-1.48],[30.82,6.32],[33.68,5.82],[32.69,-0.9],
    [33.25,-1.32],[34.12,0.11],[35.63,-1.43],[38.97,0.01],[38.97,2.0],[40.99,4.0],[33.68,4.29],[32.97,4.0],[33.96,4.0],[32.65,4.23],
    [32.0,4.15],[32.03,4.07],[33.34,3.93],[37.82,1.67],[38.19,2.94],[37.5,2.72],[36.88,3.21],[35.73,3.63],[36.23,3.63],[35.9,3.42],
    [36.01,1.45],[35.3,1.19],[34.46,1.01],[34.55,1.05],[33.81,1.06],[32.46,1.01],[31.47,1.01],[36.6,1.86],[38.13,2.28],
    [23.0,2.1],[23.2,1.55],[23.4,2.5],[23.6,1.85],[23.8,1.3],[23.9,2.2],[24.1,1.65],[24.3,2.85],[24.4,1.95],[24.6,1.4],
    [24.7,2.35],[24.9,1.75],[25.0,2.65],[25.1,1.15],[25.2,2.05],[25.4,1.6],[25.5,2.95],[25.6,1.85],[25.7,2.3],[25.8,1.35],
    [25.9,2.0],[26.0,2.7],[26.1,1.55],[26.2,2.15],[26.3,1.9],[26.4,3.1],[26.5,1.7],[26.6,2.4],[26.7,1.25],[26.8,2.0],
    [26.9,2.75],[27.0,1.55],[27.1,2.2],[27.2,1.85],[27.3,3.25],[27.4,1.45],[27.5,2.05],[27.6,2.6],[27.7,1.7],[27.8,2.3],
    [27.9,0.95],[28.0,1.95],[28.1,2.85],[28.2,1.5],[28.3,2.15],[28.4,1.8],[28.5,3.35],[28.6,1.35],[28.7,2.4],[28.8,1.95],
    [28.9,2.7],[29.0,1.6],[29.1,2.1],[29.2,1.2],[29.3,2.55],[29.4,1.85],[29.5,3.0],[29.6,2.2],[29.7,1.45],[29.8,2.35],
    [29.9,1.75],[30.0,2.9],[30.1,2.05],[30.2,1.3],[30.3,2.5],[30.4,1.9],[30.5,3.2],[30.6,1.6],[30.7,2.25],[30.8,1.05],
    [30.9,2.0],[31.0,2.7],[31.2,1.7],[31.3,2.35],[31.4,1.95],[31.5,3.0],[31.6,1.45],[31.8,2.15],[31.9,2.6],[32.0,1.8],
    [32.2,2.3],[32.3,3.3],[32.5,1.95],[32.6,2.5],[32.8,1.6],[32.9,2.85],[33.1,2.1],[33.3,3.05],[33.4,1.75],[33.6,2.4],
    [33.8,2.0],[34.0,2.7],[34.2,2.25],[34.4,1.65],[34.6,2.55],[34.8,2.05],[35.0,2.8],[35.2,1.85],[35.5,2.3],[35.7,3.1],
    [35.9,2.1],[36.2,2.45],[36.5,2.0],[36.8,1.9],[37.1,2.3],[37.5,2.05],[38.0,2.6],[38.2,3.0],[24.0,2.05],[24.8,2.1],
    [25.6,2.05],[26.3,2.15],[27.0,2.05],[27.7,2.0],[28.4,2.1],[29.1,2.05],[29.8,2.15],[30.5,2.0],[31.2,2.1],[26.1,2.6],
    [27.4,1.75],[28.7,1.6],[30.1,2.6],[25.3,1.75],[29.5,1.55],
    [24.06,1.88],[24.16,2.34],[24.26,1.62],[24.36,2.12],[24.46,1.78],[24.56,2.52],[24.66,1.96],[24.76,2.22],[24.86,1.54],[24.96,2.04],
    [25.06,2.42],[25.16,1.82],[25.26,2.16],[25.36,1.66],[25.46,2.32],[25.56,1.92],[25.66,2.62],[25.76,1.74],[25.86,2.08],[25.96,1.86],
    [26.06,2.36],[26.16,1.96],[26.26,1.62],[26.36,2.24],[26.46,1.84],[26.56,2.56],[26.66,2.02],[26.76,1.72],[26.86,2.28],[26.96,1.92],
    [27.06,2.48],[27.16,1.66],[27.26,2.12],[27.36,1.88],[27.46,2.66],[27.56,1.96],[27.66,2.22],[27.76,1.58],[27.86,2.06],[27.96,2.42],
    [28.06,1.76],[28.16,2.18],[28.26,1.92],[28.36,2.56],[28.46,1.66],[28.56,2.08],[28.66,2.32],[28.76,1.82],[28.86,2.16],[28.96,1.52],
    [29.06,2.44],[29.16,1.96],[29.26,2.22],[29.36,1.74],[29.46,2.06],[29.56,2.62],[29.66,1.86],[29.76,2.12],[29.86,1.64],[29.96,2.36],
    [30.16,1.94],[30.36,2.24],[30.56,1.72],[30.76,2.42],[30.96,1.86],[31.16,2.28],[31.36,1.62],[31.56,2.16],[31.76,2.46],[31.96,2.02]
];

// mean difference and limits of agreement, same order as the panels
var meanDiff = [1.23, 1.43, 2.16, 2.16, 2.17, 2.28, 1.97, 2.07];
var upperLoA = [3.10, 2.84, 4.45, 4.14, 4.47, 4.44, 3.79, 4.62];
var lowerLoA = [-0.62, 0.02, -0.15, 0.18, -0.15, 0.07, 0.14, -0.48];

// axis extents and tick labels
var xMin = [10.92, 14.3, 13.23, 18.6, 14.88, 15.74, 14.75, 18.82];
var xMax = [32.06, 28.19, 46.8, 46.38, 37.09, 41.31, 40.27, 42.14];
var yLim = [4.46, 4.46, 5.55, 5.55, 6.65, 6.65, 6.68, 6.68];
var xTicks = [
    [15, 20, 25, 30], [15, 20, 25],
    [15, 20, 25, 30, 35, 40, 45], [20, 25, 30, 35, 40, 45],
    [15, 20, 25, 30, 35], [20, 25, 30, 35, 40],
    [15, 20, 25, 30, 35, 40], [20, 25, 30, 35, 40]
];
var yTicks4 = [-4, -3, -2, -1, 0, 1, 2, 3, 4];
var yTicks5 = [-5, -4, -3, -2, -1, 0, 1, 2, 3, 4, 5];
var yTicks6 = [-6, -5, -4, -3, -2, -1, 0, 1, 2, 3, 4, 5, 6];
var yTicks = [yTicks4, yTicks4, yTicks5, yTicks5, yTicks6, yTicks6, yTicks6, yTicks6];

var panels = [vajED, vajMS, svED, svMS, stjED, stjMS, taaED, taaMS];

// page layout (px)
var colLeft = [252, 767], colWidth = [418, 417];
var rowTop = [99, 495, 893, 1281], rowHeight = [322, 322, 321, 323];
var FONT = '"Liberation Sans", Arial, Helvetica, sans-serif';

var myChart = echarts.init(document.getElementById('main'), null, {renderer: 'canvas'});

var grids = [], xAxes = [], yAxes = [], series = [];
panels.forEach(function (pts, i) {
    var r = Math.floor(i / 2), c = i % 2;
    grids.push({
        left: colLeft[c], top: rowTop[r], width: colWidth[c], height: rowHeight[r],
        show: true, backgroundColor: '#ebebeb', borderColor: '#555', borderWidth: 1.5
    });
    xAxes.push({
        type: 'value', gridIndex: i, min: xMin[i], max: xMax[i], position: 'bottom',
        name: '(II+LL)/2', nameLocation: 'middle', nameGap: 27,
        nameTextStyle: {fontFamily: FONT, fontWeight: 'bold', fontSize: 14.5, color: '#111'},
        axisLine: {show: false, onZero: false},
        axisTick: {show: true, length: 6, customValues: xTicks[i], lineStyle: {color: '#555', width: 1.2}},
        axisLabel: {customValues: xTicks[i], margin: 9, color: '#6a6a6a', fontSize: 12.5, fontFamily: FONT},
        splitLine: {show: false}
    });
    yAxes.push({
        type: 'value', gridIndex: i, min: -yLim[i], max: yLim[i], position: 'left',
        name: 'LL minus II', nameLocation: 'middle', nameGap: 21,
        nameTextStyle: {fontFamily: FONT, fontWeight: 'bold', fontSize: 14.5, color: '#111'},
        axisLine: {show: false, onZero: false},
        axisTick: {show: true, length: 7, customValues: yTicks[i], lineStyle: {color: '#555', width: 1.2}},
        axisLabel: {customValues: yTicks[i], margin: 9, color: '#6a6a6a', fontSize: 12.5, fontFamily: FONT},
        splitLine: {show: false}
    });
    series.push({
        type: 'scatter', xAxisIndex: i, yAxisIndex: i,
        data: pts, symbolSize: 5,
        itemStyle: {color: '#111', opacity: 1},
        markLine: {
            silent: true, symbol: ['none', 'none'],
            label: {show: false},
            data: [
                {yAxis: meanDiff[i], lineStyle: {color: '#111', width: 2.4, type: 'solid'}},
                {yAxis: upperLoA[i], lineStyle: {color: '#222', width: 2, type: [2, 1.5]}},
                {yAxis: lowerLoA[i], lineStyle: {color: '#222', width: 2, type: [2, 1.5]}}
            ]
        }
    });
});

var texts = [
    {type: 'text', x: 478, y: 58, style: {text: cols[0], font: 'bold 22px ' + FONT, fill: '#111', align: 'center', verticalAlign: 'middle'}},
    {type: 'text', x: 984, y: 58, style: {text: cols[1], font: 'bold 22px ' + FONT, fill: '#111', align: 'center', verticalAlign: 'middle'}}
];
rows.forEach(function (name, r) {
    texts.push({
        type: 'text', x: 182, y: rowTop[r] + rowHeight[r] / 2, rotation: Math.PI / 2,
        style: {text: name, font: 'bold 26px ' + FONT, fill: '#111', align: 'center', verticalAlign: 'middle'}
    });
});

myChart.setOption({
    animation: false,
    grid: grids,
    xAxis: xAxes,
    yAxis: yAxes,
    series: series,
    graphic: texts
});
</script>
</body>
</html>
